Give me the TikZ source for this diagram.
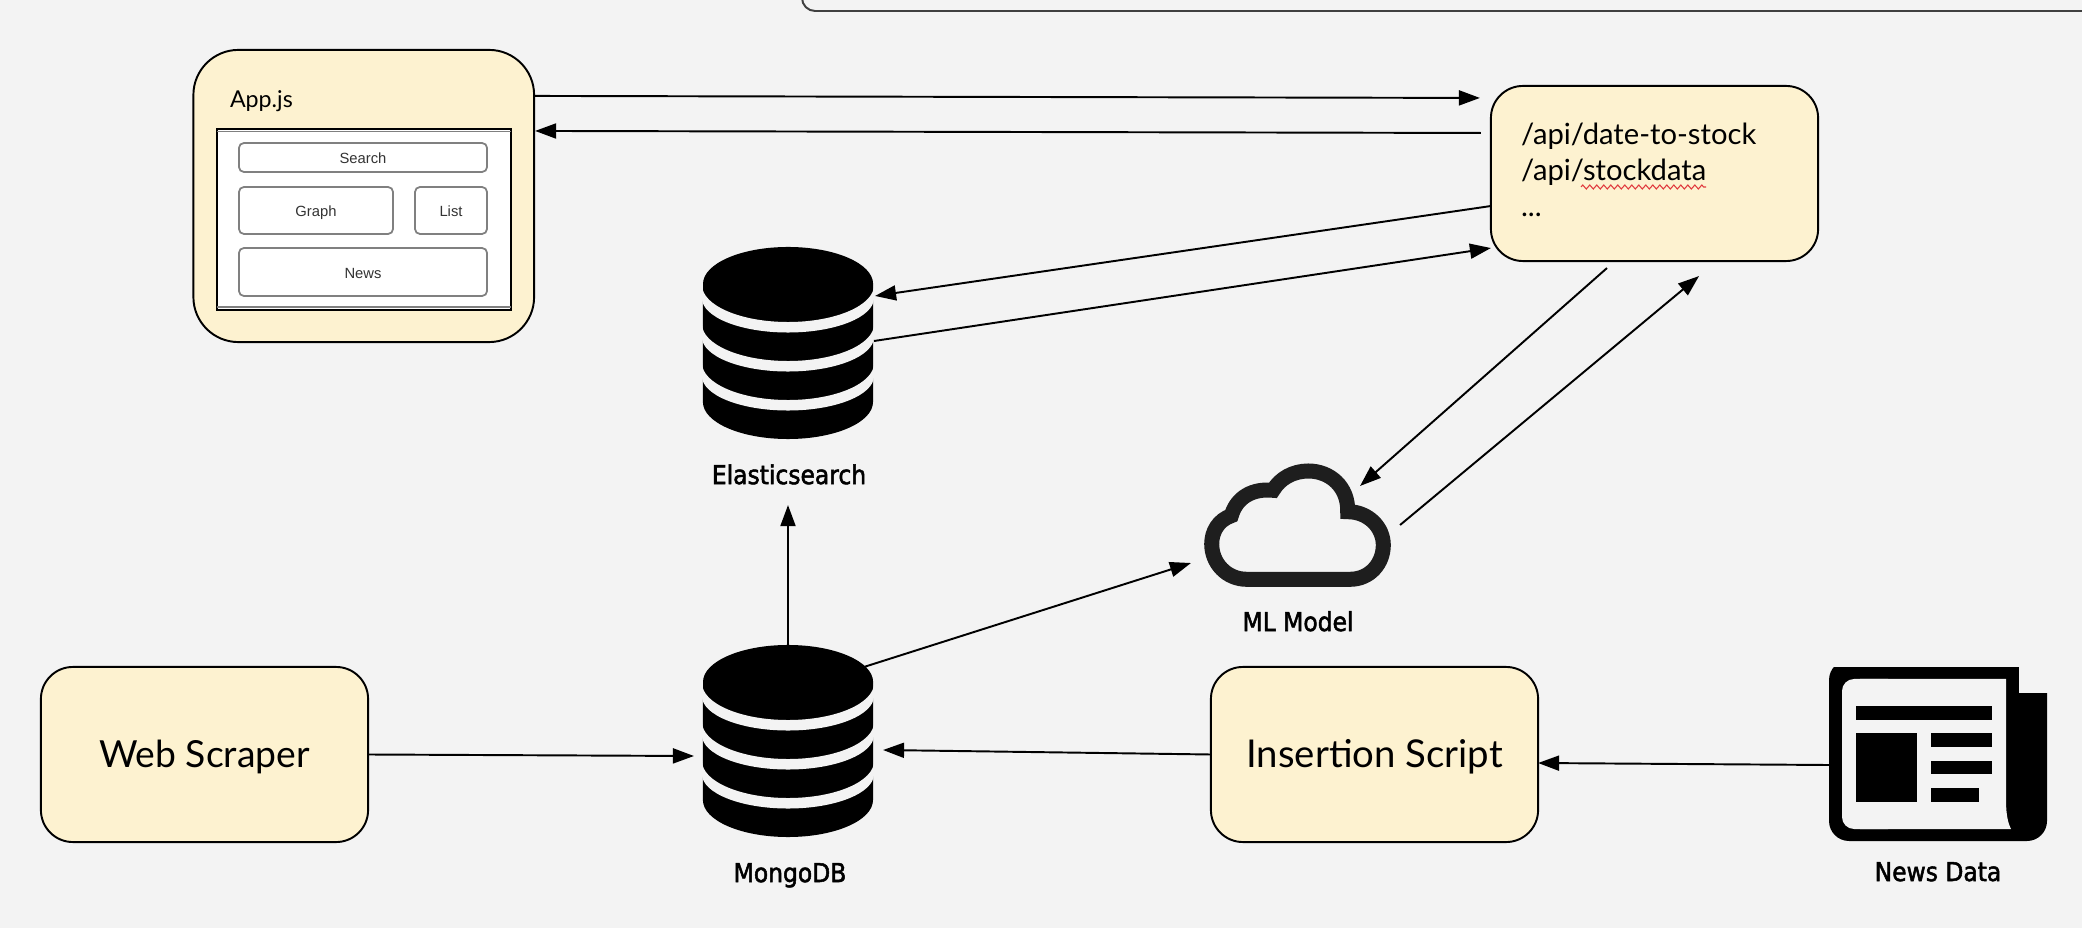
\documentclass[tikz,border=0pt]{standalone}
\usepackage{fontspec}
\usetikzlibrary{positioning,decorations.pathmorphing}
\usepgflibrary{arrows.meta}
\setmainfont{Lato}
\newfontfamily\capfont[FakeStretch=0.9,FakeBold=2]{DejaVu Sans}
\newfontfamily\uifont{Liberation Sans}
\definecolor{pagebg}{HTML}{F3F3F3}
\definecolor{boxfill}{HTML}{FDF2D0}
\definecolor{uigray}{HTML}{808080}
\definecolor{cloudblack}{HTML}{1E1E1E}
\definecolor{spellred}{HTML}{E0393E}
\tikzset{
  dbstack/.pic={
    \fill[black] (-85,-59) arc[start angle=180, end angle=0, x radius=.85cm, y radius=.37cm]
      -- (85,59) arc[start angle=0, end angle=-180, x radius=.85cm, y radius=.37cm] -- cycle;
    \foreach \e in {-58,-19,20}
      \fill[pagebg] (-86,\e) arc[start angle=180, end angle=360, x radius=.86cm, y radius=.37cm]
        -- (86,\e+13) arc[start angle=0, end angle=-180, x radius=.86cm, y radius=.345cm] -- cycle;
  }
}
\begin{document}
\begin{tikzpicture}
    [x=0.01cm, y=-0.01cm,
    every node/.style={outer sep=0pt},
    flow/.style={-{Triangle[length=.21cm, width=.15cm]}, line width=.55pt},
    yellowbox/.style={draw, fill=boxfill, line width=.55pt, rounded corners=.32cm, minimum width=3.27cm, minimum height=1.75cm},
    uibox/.style={draw=uigray, fill=white, line width=.5pt, rounded corners=.05cm, text=black!80, font=\uifont\fontsize{4.2}{5}\selectfont, inner sep=0pt, text height=.13cm, text depth=0pt},
    boxtext/.style={font=\fontsize{10.6}{13}\selectfont, text depth=.02cm},
    smalltext/.style={font=\fontsize{8.3}{10.25}\selectfont, inner sep=0pt},
    icon/.style={inner sep=0pt, minimum width=#1},
    caption/.style={font=\capfont\fontsize{7.4}{9}\selectfont, inner sep=0pt, text height=.16cm, text depth=0pt}]
        \fill[pagebg] (0,0) rectangle (2082,928);
        \useasboundingbox (0,0) rectangle (2082,928);
        \draw[line width=.55pt, draw=black!75, rounded corners=.13cm] (802,0) |- (2082,11);

        % Front end
        \node[yellowbox, minimum width=3.405cm, minimum height=2.92cm, rounded corners=.45cm] (App) at (363.75,196) {};
        \node[smalltext, font=\fontsize{6.6}{8}\selectfont, anchor=base west] (AppName) at (230,108) {App.js};
        \node[draw, fill=white, line width=.7pt, inner sep=0pt, minimum width=2.94cm, minimum height=1.81cm] (Win) at (364,219.5) {};
        \draw[uigray, line width=.5pt] ([yshift=-.025cm]Win.north west) -- ([yshift=-.025cm]Win.north east);
        \draw[uigray, line width=.5pt] ([yshift=.03cm]Win.south west) -- ([yshift=.03cm]Win.south east);
        \node[uibox, minimum width=2.48cm, minimum height=.29cm] (Search) at (363,157.5) {Search};
        \node[uibox, minimum width=1.54cm, minimum height=.47cm] (Graph) at (316,210.5) {Graph};
        \node[uibox, minimum width=.72cm, minimum height=.47cm] (List) at (451,210.5) {List};
        \node[uibox, minimum width=2.48cm, minimum height=.48cm] (News) at (363,272) {News};

        % API
        \node[yellowbox] (Api) at (1654.5,173.5) {};
        \node[smalltext, anchor=north west, align=left] (ApiText) at (1521,123) {/api/date-to-stock\\/api/stockdata\\...};
        \coordinate (SquigA) at (1581,187);
        \coordinate (SquigB) at (1706,187);
        \draw[spellred, line width=.3pt, decorate, decoration={zigzag, amplitude=.02cm, segment length=.07cm}] (SquigA) -- (SquigB);

        % Data stores
        \node[icon=1.7cm, minimum height=1.92cm] (Es) at (788,343) {};
        \pic at (Es) {dbstack};
        \node[caption, below=-.0cm of Es.center, xshift=.01cm, yshift=-1.25cm] (EsName) {Elasticsearch};
        \node[icon=1.7cm, minimum height=1.92cm] (Mdb) at (788,741) {};
        \pic at (Mdb) {dbstack};
        \node[caption, below=0cm of Mdb.center, xshift=.02cm, yshift=-1.25cm] (MdbName) {MongoDB};

        % ML model
        \node[icon=1.89cm, minimum height=1.22cm] (Cl) at (1297.5,525) {};
        \draw[cloudblack, line width=.15cm] (1246.7,579.3) -- (1350,579.3)
            .. controls (1370,579.3) and (1383.3,563.3) .. (1383.3,545)
            .. controls (1383.3,527.3) and (1368.3,511.7) .. (1347.7,511.7)
            .. controls (1348.3,486.7) and (1330,471) .. (1308.3,471)
            .. controls (1293.3,471) and (1280,478.3) .. (1273,490.3)
            .. controls (1253.3,488.3) and (1236.7,496.7) .. (1231.3,515.7)
            .. controls (1218.3,520) and (1211.7,531.7) .. (1211.7,544)
            .. controls (1211.7,563.3) and (1226.7,579.3) .. (1246.7,579.3) -- cycle;
        \node[caption, anchor=center] (ClName) at (1298,623) {ML Model};

        % Scripts
        \node[yellowbox, boxtext] (Web) at (204.5,754.5) {Web Scraper};
        \node[yellowbox, boxtext, font=\fontsize{10.9}{13}\selectfont] (Ins) at (1374.5,754.5) {Insertion Script};

        % News data
        \node[icon=2.18cm, minimum height=1.74cm] (Paper) at (1938,754) {};
        \fill[black, rounded corners=.2cm] (1829,660) -- (1829,841) -- (2047,841) -- (2047,660) -- cycle;
        \fill[pagebg] (1825,655) rectangle (2050,667);
        \fill[pagebg] (2019,660) rectangle (2050,693);
        \fill[pagebg, rounded corners=.12cm] (1842,679) -- (1842,829) -- (1900,829) -- (1900,679) -- cycle;
        \fill[pagebg] (1860,679) -- (2006,679) -- (2006,800) .. controls (2006,815) and (2008,823) .. (2011,829) -- (1860,829) -- cycle;
        \fill[black] (1856,706) rectangle (1992,720);
        \fill[black] (1856,733) rectangle (1917,802);
        \fill[black] (1931,733) rectangle (1992,747);
        \fill[black] (1931,761) rectangle (1992,774);
        \fill[black] (1931,788) rectangle (1979,802);
        \node[caption, anchor=center] (PaperName) at (1938,873) {News Data};

        % Connectors
        \draw[flow] ([yshift=1cm]App.east) -- ([xshift=-.11cm, yshift=.755cm]Api.west);
        \draw[flow] ([xshift=-.10cm, yshift=.405cm]Api.west) -- ([xshift=.01cm, yshift=.65cm]App.east);
        \draw[flow] ([yshift=-.325cm]Api.west) -- ([xshift=.02cm, yshift=.47cm]Es.east);
        \draw[flow] ([xshift=.01cm, yshift=.02cm]Es.east) -- ([yshift=-.745cm]Api.west);
        \draw[flow] ([xshift=-.475cm, yshift=-.07cm]Api.south) -- ([xshift=.625cm, yshift=-.22cm]Cl.north);
        \draw[flow] ([xshift=.08cm]Cl.east) -- ([xshift=.445cm, yshift=-.15cm]Api.south);
        \draw[flow] (Mdb.north) -- ([yshift=-.66cm]Es.south);
        \draw[flow] ([xshift=.76cm, yshift=-.22cm]Mdb.north) -- ([xshift=-.12cm, yshift=-.38cm]Cl.west);
        \draw[flow] (Web.east) -- ([xshift=-.09cm, yshift=-.15cm]Mdb.west);
        \draw[flow] (Ins.west) -- ([xshift=.10cm, yshift=-.09cm]Mdb.east);
        \draw[flow] ([yshift=-.11cm]Paper.west) -- ([yshift=-.085cm]Ins.east);
\end{tikzpicture}
\end{document}
